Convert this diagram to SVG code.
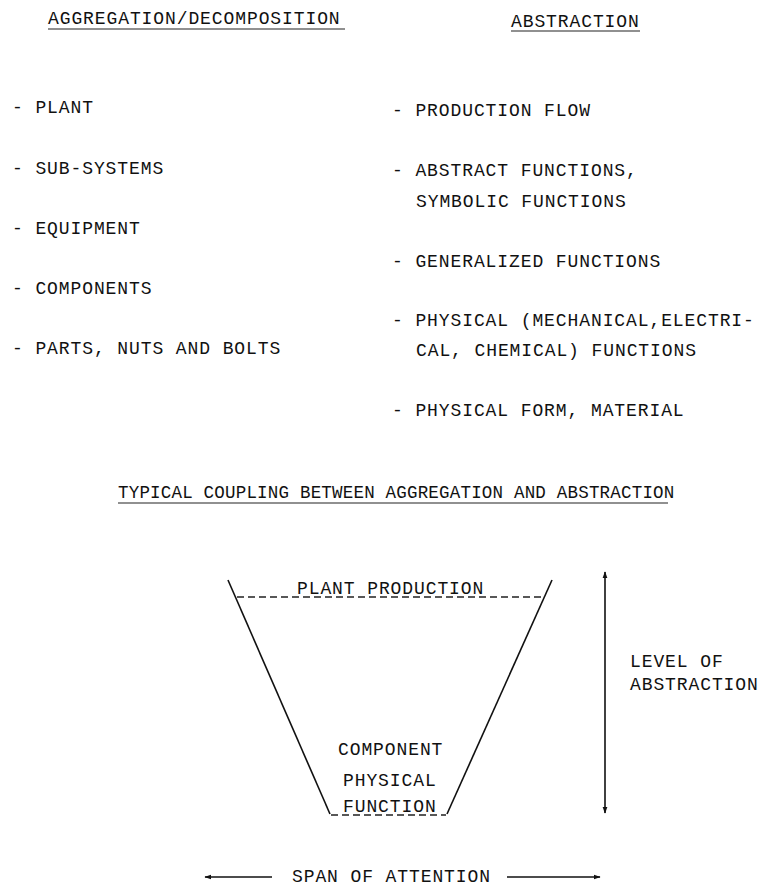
<svg xmlns="http://www.w3.org/2000/svg" width="768" height="886" viewBox="0 0 768 886">
<style>
text{font-family:"Liberation Mono","DejaVu Sans Mono",monospace;font-size:18px;letter-spacing:0.9px;fill:#111}
.t2{font-size:17.5px;letter-spacing:0.2px}
.ul{stroke:#222;stroke-width:1.2;fill:none}
.ln{stroke:#111;stroke-width:1.6;fill:none}
.dash{stroke:#222;stroke-width:1.3;stroke-dasharray:7 4;fill:none}
</style>
<defs>
<marker id="ah" viewBox="0 0 10 10" refX="9" refY="5" markerWidth="7" markerHeight="7" orient="auto-start-reverse" markerUnits="userSpaceOnUse">
<path d="M0,1.5 L10,5 L0,8.5 Z" fill="#111"/>
</marker>
</defs>
<rect width="768" height="886" fill="#fff"/>
<g id="aggregation-column">
<text x="48" y="24">AGGREGATION/DECOMPOSITION</text>
<line class="ul" x1="48" y1="29" x2="345" y2="29"/>
<text x="12" y="113">- PLANT</text>
<text x="12" y="174">- SUB-SYSTEMS</text>
<text x="12" y="234">- EQUIPMENT</text>
<text x="12" y="294">- COMPONENTS</text>
<text x="12" y="354">- PARTS, NUTS AND BOLTS</text>
</g>
<g id="abstraction-column">
<text x="511" y="27">ABSTRACTION</text>
<line class="ul" x1="511" y1="31" x2="640" y2="31"/>
<text x="392" y="116">- PRODUCTION FLOW</text>
<text x="392" y="176">- ABSTRACT FUNCTIONS,</text>
<text x="416" y="207">SYMBOLIC FUNCTIONS</text>
<text x="392" y="267">- GENERALIZED FUNCTIONS</text>
<text x="392" y="326">- PHYSICAL (MECHANICAL,ELECTRI-</text>
<text x="416" y="356">CAL, CHEMICAL) FUNCTIONS</text>
<text x="392" y="416">- PHYSICAL FORM, MATERIAL</text>
</g>
<g id="coupling-title">
<text class="t2" x="118" y="498">TYPICAL COUPLING BETWEEN AGGREGATION AND ABSTRACTION</text>
<line class="ul" x1="118" y1="503" x2="668" y2="503"/>
</g>
<g id="funnel">
<line class="ln" x1="228" y1="580" x2="330" y2="814"/>
<line class="ln" x1="552" y1="580" x2="447" y2="814"/>
<line class="dash" x1="237" y1="597" x2="544" y2="597"/>
<line class="dash" x1="331" y1="815" x2="446" y2="815"/>
<text x="297" y="594">PLANT PRODUCTION</text>
<text x="338" y="755">COMPONENT</text>
<text x="343" y="786">PHYSICAL</text>
<text x="343" y="812">FUNCTION</text>
</g>
<g id="level-label">
<text x="630" y="667">LEVEL OF</text>
<text x="630" y="690">ABSTRACTION</text>
</g>
<g id="span-label">
<text x="292" y="882">SPAN OF ATTENTION</text>
</g>
<g id="connectors">
<line class="ln" x1="605" y1="813" x2="605" y2="572" marker-start="url(#ah)" marker-end="url(#ah)"/>
<line class="ln" x1="272" y1="877" x2="205" y2="877" marker-end="url(#ah)"/>
<line class="ln" x1="507" y1="877" x2="600" y2="877" marker-end="url(#ah)"/>
</g>
</svg>
